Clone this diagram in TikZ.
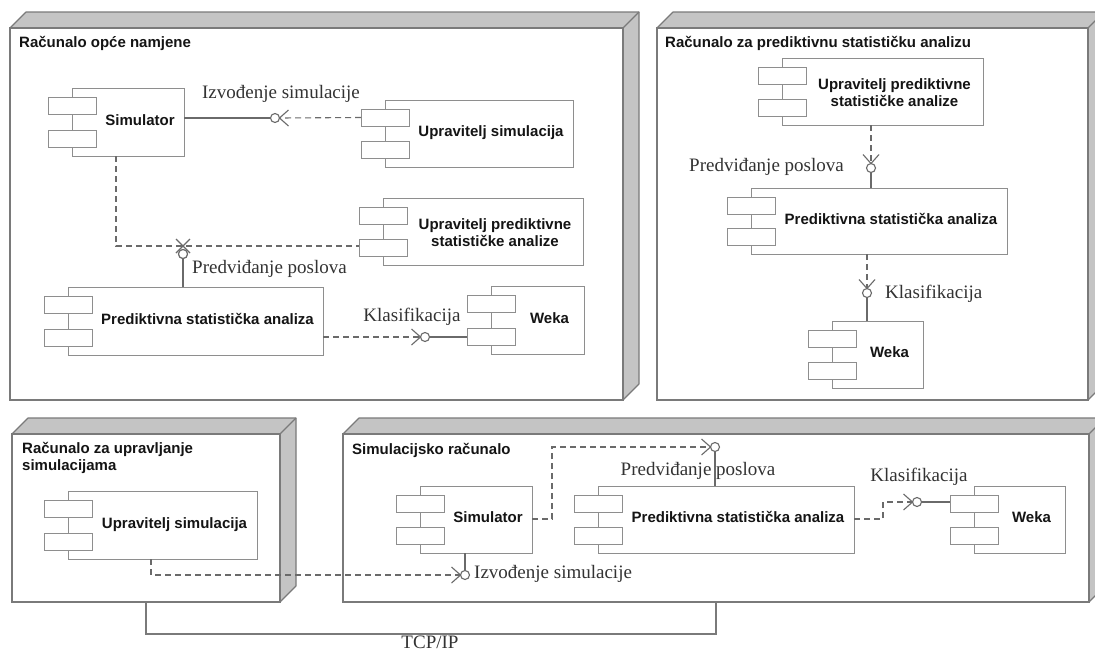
\documentclass[tikz,border=0pt]{standalone}
\usepackage{fontspec}
\setmainfont{Liberation Serif}
\setsansfont{Liberation Sans}
\definecolor{edgegray}{HTML}{7A7A7A}
\definecolor{facegray}{HTML}{C4C4C4}
\definecolor{compgray}{HTML}{8E8E8E}
\definecolor{linegray}{HTML}{6A6A6A}
\definecolor{labelgray}{HTML}{333333}
\tikzset{
  devfront/.style={draw=edgegray, line width=1.3pt, fill=white, inner sep=0pt, outer sep=0pt},
  devface/.style={fill=facegray, draw=edgegray, line width=1.1pt, line join=round},
  cbox/.style={draw=compgray, line width=1pt, fill=white, inner sep=0pt, outer sep=0pt},
  cport/.style={cbox, minimum width=48pt, minimum height=17pt},
  clabel/.style={font=\sffamily\bfseries\fontsize{15}{17}\selectfont, text=black!92, align=center, inner sep=0pt},
  ntitle/.style={font=\sffamily\bfseries\fontsize{15}{17}\selectfont, text=black!92, inner sep=0pt, anchor=mid west},
  iflabel/.style={font=\rmfamily\fontsize{19}{21}\selectfont, text=labelgray, inner sep=0pt},
  dep/.style={draw=linegray, dash pattern=on 6pt off 4pt, line width=1.1pt},
  wire/.style={draw=linegray, line width=1.2pt},
  ball/.style={circle, draw=linegray, fill=white, line width=1.1pt, minimum size=9pt, inner sep=0pt, outer sep=0pt},
  socket/.pic={\draw[linegray, line width=1.1pt] (9,-8) -- (0,0) -- (9,8);}
}
% device box: name, x1, y1, x2, y2
\newcommand\devbox[5]{%
  \draw[devface] (#2,#3) -- (#2+16,#3-16) -- (#4+16,#3-16) -- (#4+16,#5-16) -- (#4,#5) -- cycle;
  \draw[devface] (#4,#3) -- (#4+16,#3-16);
  \node[devfront, minimum width={(#4-#2)*1pt}, minimum height={(#5-#3)*1pt}, anchor=north west] (#1) at (#2,#3) {};
}
% component: [label anchor], name, x1, y1, x2, y2, label
\newcommand\comp[7][mid]{%
  \node[cbox, minimum width={(#5-#3)*1pt}, minimum height={(#6-#4)*1pt}, anchor=north west] (#2) at (#3,#4) {};
  \node[cport, anchor=north west] (#2-a) at (#3-24,#4+9) {};
  \node[cport, anchor=south west] (#2-b) at (#3-24,#6-9) {};
  \node[clabel, anchor=#1] (#2-t) at ({(#3+24+#5)/2},{(#4+#6)/2+1}) {#7};
}
\begin{document}
\begin{tikzpicture}[x=1pt,y=-1pt]
\useasboundingbox (0,0) rectangle (1095,662);

% ---------- device nodes ----------
\devbox{n1}{10}{28}{623}{400}
\devbox{n2}{657}{28}{1088}{400}
\devbox{n3}{12}{434}{280}{602}
\devbox{n4}{343}{434}{1089}{602}

\node[ntitle] (n1t) at (19,45) {Računalo opće namjene};
\node[ntitle] (n2t) at (665,45) {Računalo za prediktivnu statističku analizu};
\node[ntitle] (n3t) at (22,451) {Računalo za upravljanje};
\node[ntitle] (n3t2) at (22,468) {simulacijama};
\node[ntitle] (n4t) at (352,452) {Simulacijsko računalo};

% ---------- components: node 1 ----------
\comp{sim1}{72}{88}{184}{156}{Simulator}
\comp{us1}{385}{100}{573}{167}{Upravitelj simulacija}
\comp[center]{upa1}{383}{198}{583}{265}{Upravitelj prediktivne\\statističke analize}
\comp{pa1}{68}{287}{323}{355}{Prediktivna statistička analiza}
\comp{wk1}{491}{286}{584}{354}{Weka}

% ---------- components: node 2 ----------
\comp[center]{upa2}{782}{58}{983}{125}{Upravitelj prediktivne\\statističke analize}
\comp{pa2}{751}{188}{1007}{254}{Prediktivna statistička analiza}
\comp{wk2}{832}{321}{923}{388}{Weka}

% ---------- components: node 3 ----------
\comp{us3}{68}{491}{257}{559}{Upravitelj simulacija}

% ---------- components: node 4 ----------
\comp{sim4}{420}{486}{532}{553}{Simulator}
\comp{pa4}{598}{486}{854}{553}{Prediktivna statistička analiza}
\comp{wk4}{974}{486}{1065}{553}{Weka}

% ---------- connectors: node 1 ----------
\node[ball] (b1) at (275,118) {};
\draw[wire] (b1.west) -- (b1.west -| sim1.east);
\draw[dep] (us1-a.west) -- (b1.east);
\pic at (b1.east) {socket};
\node[iflabel, anchor=mid] (l1) at (281,96) {Izvođenje simulacije};

\coordinate (j1) at (116,246);
\node[ball] (b2) at (183,254) {};
\draw[dep] (sim1.south -| j1) -- (j1) -- (j1 -| upa1-b.west);
\draw[linegray, line width=1.1pt] (176,239) -- (190,253) (190,239) -- (176,253);
\node[ball] at (b2) {};
\draw[wire] (b2.south) -- (b2.south |- pa1.north);
\node[iflabel, anchor=mid west] (l2) at (192,271) {Predviđanje poslova};

\node[ball] (b3) at (425,337) {};
\draw[dep] (b3.west -| pa1.east) -- (b3.west);
\pic[rotate=180] at (b3.west) {socket};
\draw[wire] (b3.east) -- (b3.east -| wk1-b.west);
\node[iflabel, anchor=mid] (l3) at (412,319) {Klasifikacija};

% ---------- connectors: node 2 ----------
\node[ball] (b4) at (871,168) {};
\draw[dep] (b4.north |- upa2.south) -- (b4.north);
\pic[rotate=90] at (b4.north) {socket};
\draw[wire] (b4.south) -- (b4.south |- pa2.north);
\node[iflabel, anchor=mid east] (l4) at (844,169) {Predviđanje poslova};

\node[ball] (b5) at (867,293) {};
\draw[dep] (b5.north |- pa2.south) -- (b5.north);
\pic[rotate=90] at (b5.north) {socket};
\draw[wire] (b5.south) -- (b5.south |- wk2.north);
\node[iflabel, anchor=mid west] (l5) at (885,296) {Klasifikacija};

% ---------- connectors: nodes 3 and 4 ----------
\node[ball] (b6) at (465,575) {};
\coordinate (j6) at (151,575);
\draw[dep] (j6 |- us3.south) -- (j6) -- (b6.west);
\pic[rotate=180] at (b6.west) {socket};
\draw[wire] (b6.north) -- (b6.north |- sim4.south);
\node[iflabel, anchor=mid west] (l6) at (474,576) {Izvođenje simulacije};

\node[ball] (b7) at (715,447) {};
\coordinate (j7a) at (552,519);
\coordinate (j7b) at (552,447);
\draw[dep] (sim4.east |- j7a) -- (j7a) -- (j7b) -- (b7.west);
\pic[rotate=180] at (b7.west) {socket};
\draw[wire] (b7.south) -- (b7.south |- pa4.north);
\node[iflabel, anchor=mid] (l7) at (698,473) {Predviđanje poslova};

\node[ball] (b8) at (917,502) {};
\coordinate (j8a) at (883,519);
\coordinate (j8b) at (883,502);
\draw[dep] (pa4.east |- j8a) -- (j8a) -- (j8b) -- (b8.west);
\pic[rotate=180] at (b8.west) {socket};
\draw[wire] (b8.east) -- (b8.east -| wk4-a.west);
\node[iflabel, anchor=mid] (l8) at (919,479) {Klasifikacija};

% ---------- TCP/IP link ----------
\coordinate (t1) at (146,634);
\coordinate (t2) at (716,634);
\draw[draw=edgegray, line width=1.2pt] (t1 |- n3.south) -- (t1) -- (t2) -- (t2 |- n4.south);
\node[iflabel, anchor=mid] (tcp) at (430,646) {TCP/IP};
\end{tikzpicture}
\end{document}
